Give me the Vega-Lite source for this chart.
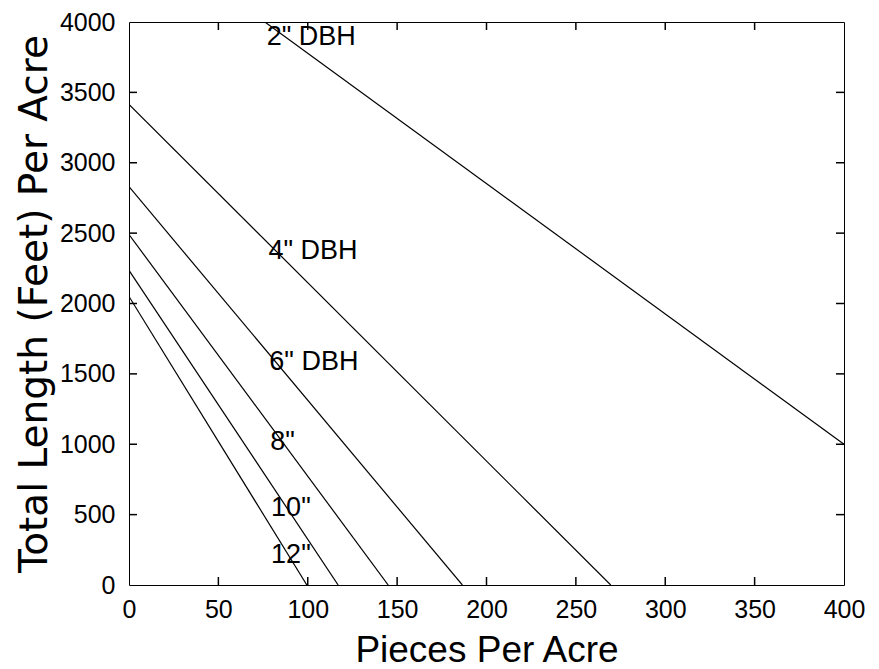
{
  "$schema": "https://vega.github.io/schema/vega-lite/v6.json",
  "width": 715,
  "height": 563,
  "autosize": "none",
  "padding": {"left": 129, "top": 22, "right": 35, "bottom": 84},
  "background": "white",
  "config": {
    "view": {"stroke": "black", "strokeWidth": 1},
    "font": "Liberation Sans",
    "axis": {"grid": false, "domain": false, "ticks": false, "labelColor": "black", "titleColor": "black", "labelFont": "Liberation Sans", "titleFont": "Liberation Sans", "titleFontWeight": "normal"}
  },
  "datasets": {
    "lines": [
      {"dbh": "2", "pieces": 76, "length": 4000},
      {"dbh": "2", "pieces": 400, "length": 1000},
      {"dbh": "4", "pieces": 0, "length": 3415},
      {"dbh": "4", "pieces": 269.5, "length": 0},
      {"dbh": "6", "pieces": 0, "length": 2830},
      {"dbh": "6", "pieces": 186.5, "length": 0},
      {"dbh": "8", "pieces": 0, "length": 2490},
      {"dbh": "8", "pieces": 145, "length": 0},
      {"dbh": "10", "pieces": 0, "length": 2235},
      {"dbh": "10", "pieces": 117, "length": 0},
      {"dbh": "12", "pieces": 0, "length": 2050},
      {"dbh": "12", "pieces": 99.5, "length": 0}
    ],
    "labels": [
      {"label": "2\" DBH", "pieces": 77, "length": 3834},
      {"label": "4\" DBH", "pieces": 78, "length": 2313},
      {"label": "6\" DBH", "pieces": 78.5, "length": 1525},
      {"label": "8\"", "pieces": 79, "length": 962},
      {"label": "10\"", "pieces": 79.5, "length": 492},
      {"label": "12\"", "pieces": 79.5, "length": 159}
    ],
    "xticks": [{"v": 50}, {"v": 100}, {"v": 150}, {"v": 200}, {"v": 250}, {"v": 300}, {"v": 350}],
    "yticks": [{"v": 500}, {"v": 1000}, {"v": 1500}, {"v": 2000}, {"v": 2500}, {"v": 3000}, {"v": 3500}]
  },
  "layer": [
    {
      "data": {"name": "lines"},
      "mark": {"type": "line", "color": "black", "strokeWidth": 1.2, "clip": true},
      "encoding": {
        "x": {"field": "pieces", "type": "quantitative", "scale": {"domain": [0, 400], "nice": false}, "axis": {"values": [0, 50, 100, 150, 200, 250, 300, 350, 400], "format": "d", "labelFontSize": 25, "title": "Pieces Per Acre", "titleFontSize": 37, "labelPadding": 12, "titlePadding": 10, "labelFlush": false, "labelOverlap": false}},
        "y": {"field": "length", "type": "quantitative", "scale": {"domain": [0, 4000], "nice": false}, "axis": {"values": [0, 500, 1000, 1500, 2000, 2500, 3000, 3500, 4000], "format": "d", "labelFontSize": 25, "title": "Total Length (Feet) Per Acre", "titleFont": "DejaVu Sans", "titleFontSize": 39, "labelPadding": 14, "titlePadding": 5, "labelFlush": false, "labelOverlap": false}},
        "detail": {"field": "dbh"}
      }
    },
    {
      "data": {"name": "xticks"},
      "mark": {"type": "tick", "orient": "vertical", "clip": true, "color": "black", "opacity": 1, "size": 16, "thickness": 1.5},
      "encoding": {"x": {"field": "v", "type": "quantitative"}, "y": {"datum": 0, "type": "quantitative"}}
    },
    {
      "data": {"name": "xticks"},
      "mark": {"type": "tick", "orient": "vertical", "clip": true, "color": "black", "opacity": 1, "size": 16, "thickness": 1.5},
      "encoding": {"x": {"field": "v", "type": "quantitative"}, "y": {"datum": 4000, "type": "quantitative"}}
    },
    {
      "data": {"name": "yticks"},
      "mark": {"type": "tick", "orient": "horizontal", "clip": true, "color": "black", "opacity": 1, "size": 16, "thickness": 1.5},
      "encoding": {"y": {"field": "v", "type": "quantitative"}, "x": {"datum": 0, "type": "quantitative"}}
    },
    {
      "data": {"name": "yticks"},
      "mark": {"type": "tick", "orient": "horizontal", "clip": true, "color": "black", "opacity": 1, "size": 16, "thickness": 1.5},
      "encoding": {"y": {"field": "v", "type": "quantitative"}, "x": {"datum": 400, "type": "quantitative"}}
    },
    {
      "data": {"name": "labels"},
      "mark": {"type": "text", "align": "left", "baseline": "alphabetic", "fontSize": 27, "font": "Liberation Sans", "color": "black"},
      "encoding": {
        "x": {"field": "pieces", "type": "quantitative"},
        "y": {"field": "length", "type": "quantitative"},
        "text": {"field": "label"}
      }
    }
  ]
}
